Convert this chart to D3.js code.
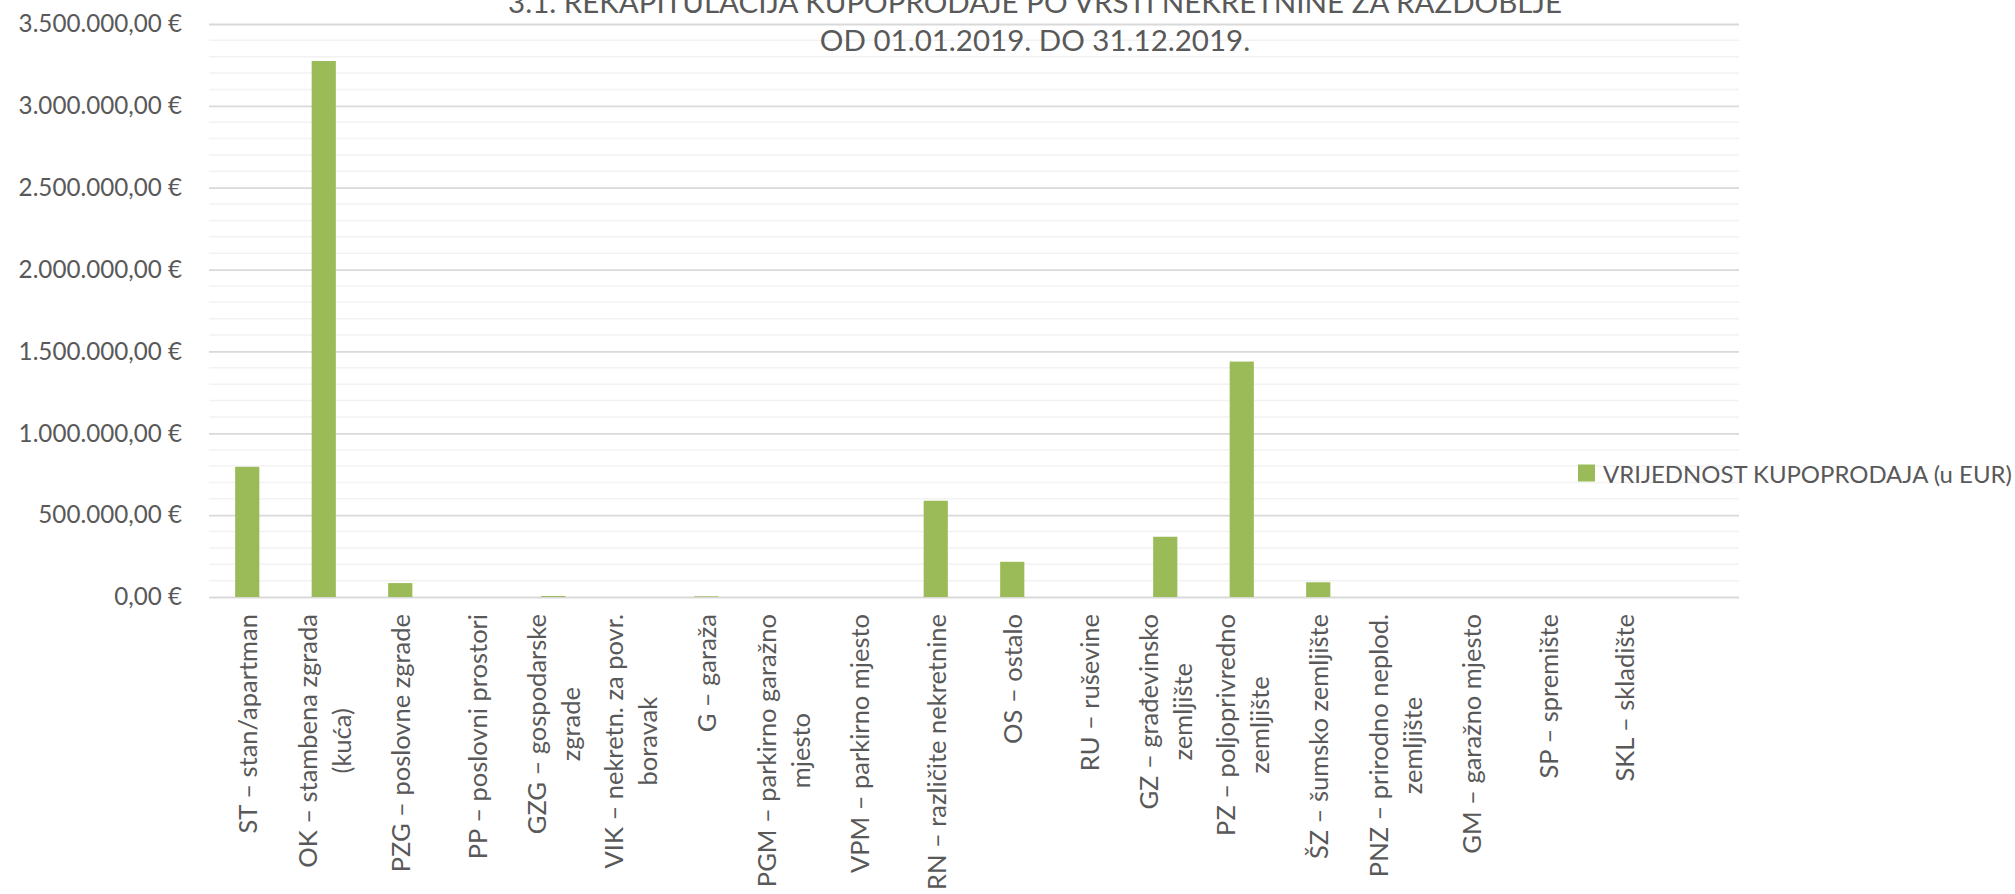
<!DOCTYPE html>
<html>
<head>
<meta charset="utf-8">
<script src="https://cdn.jsdelivr.net/npm/d3@7"></script>
<style>
  html, body { margin: 0; padding: 0; background: #fff; }
  svg { display: block; font-family: Lato, "Open Sans", sans-serif; }
</style>
</head>
<body>
<svg id="canvas" width="2015" height="894"></svg>
<script>
const codes = ["ST", "OK", "PZG", "PP", "GZG", "VIK", "G", "PGM", "VPM", "RN", "OS", "RU", "GZ", "PZ", "ŠZ", "PNZ", "GM", "SP", "SKL", ""]
const labels = [
  ["ST – stan/apartman"],
  ["OK – stambena zgrada", "(kuća)"],
  ["PZG – poslovne zgrade"],
  ["PP – poslovni prostori"],
  ["GZG – gospodarske", "zgrade"],
  ["VIK – nekretn. za povr.", "boravak"],
  ["G – garaža"],
  ["PGM – parkirno garažno", "mjesto"],
  ["VPM – parkirno mjesto"],
  ["RN – različite nekretnine"],
  ["OS – ostalo"],
  ["RU – ruševine"],
  ["GZ – građevinsko", "zemljište"],
  ["PZ – poljoprivredno", "zemljište"],
  ["ŠZ – šumsko zemljište"],
  ["PNZ – prirodno neplod.", "zemljište"],
  ["GM – garažno mjesto"],
  ["SP – spremište"],
  ["SKL – skladište"],
  []
]
const values = [795000, 3274000, 85000, 0, 6000, 0, 4000, 0, 0, 588000, 215000, 0, 368000, 1438000, 90000, 0, 0, 0, 0, null]
const yMajor = [0, 500000, 1000000, 1500000, 2000000, 2500000, 3000000, 3500000]
const seriesName = "VRIJEDNOST KUPOPRODAJA (u EUR)"
const titleLines = ["3.1. REKAPITULACIJA KUPOPRODAJE PO VRSTI NEKRETNINE ZA RAZDOBLJE", "OD 01.01.2019. DO 31.12.2019."]

const svg = d3.select("#canvas")
const textColor = "#595959"
const green = "#9BBB59"

const x = d3.scaleBand().domain(codes).range([209, 1739]).paddingInner(0.684).paddingOuter(0.342)
const y = d3.scaleLinear().domain([0, 3500000]).range([597, 24])

const eur = d3.formatLocale({ decimal: ",", thousands: ".", grouping: [3], currency: ["", " €"] }).format("$,.2f")

// minor grid every 100k, major every 500k
const minor = d3.range(0, 3500001, 100000).filter(v => v % 500000 !== 0)
svg.append("g").selectAll("line").data(minor).enter().append("line")
  .attr("x1", 209).attr("x2", 1739)
  .attr("y1", d => y(d)).attr("y2", d => y(d))
  .attr("stroke", "#F2F2F2").attr("stroke-width", 1.5)

const yAxis = d3.axisLeft(y).tickValues(yMajor).tickFormat(eur).tickSize(-1530).tickPadding(27)
const ga = svg.append("g").attr("transform", "translate(209,0)").call(yAxis)
ga.select(".domain").remove()
ga.selectAll(".tick line").attr("stroke", "#D9D9D9").attr("stroke-width", 1.8)
ga.selectAll(".tick text").attr("fill", textColor).attr("font-size", 24.2).attr("font-family", "Lato")

svg.append("g").selectAll("rect").data(codes.filter((c, i) => values[i] != null)).enter().append("rect")
  .attr("x", d => x(d))
  .attr("width", x.bandwidth())
  .attr("y", (d, i) => y(values[i]))
  .attr("height", (d, i) => y(0) - y(values[i]))
  .attr("fill", green)

// category labels, rotated, block top-aligned below the axis
const lab = svg.append("g").selectAll("g").data(codes).enter().append("g")
  .attr("transform", d => "translate(" + (x(d) + x.bandwidth() / 2) + ",614) rotate(-90)")
lab.each(function(d, i) {
  const g = d3.select(this)
  const lines = labels[i]
  const t = g.selectAll("text").data(lines).enter().append("text")
    .attr("text-anchor", "middle")
    .attr("dominant-baseline", "central")
    .attr("y", (l, j) => (j - (lines.length - 1) / 2) * 34)
    .attr("fill", textColor)
    .attr("font-size", 25.5)
    .text(l => l)
  let L = 0
  t.each(function() { L = Math.max(L, this.getComputedTextLength()) })
  t.attr("x", -L / 2)
})

const lg = svg.append("g")
lg.append("rect").attr("x", 1578).attr("y", 464.5).attr("width", 17).attr("height", 17).attr("fill", green)
const lt = lg.append("text").attr("x", 1603).attr("y", 473).attr("dominant-baseline", "central")
  .attr("fill", textColor).attr("font-size", 24).text(seriesName)
// squeeze legend text into the space left of the window edge
const lw = lt.node().getComputedTextLength()
lt.attr("font-size", 24 * 409 / lw)

svg.append("g").selectAll("text").data(titleLines).enter().append("text")
  .attr("x", 1035).attr("y", (d, i) => 13 + i * 38)
  .attr("text-anchor", "middle")
  .attr("fill", textColor).attr("font-size", 29.5)
  .text(d => d)
</script>
</body>
</html>
